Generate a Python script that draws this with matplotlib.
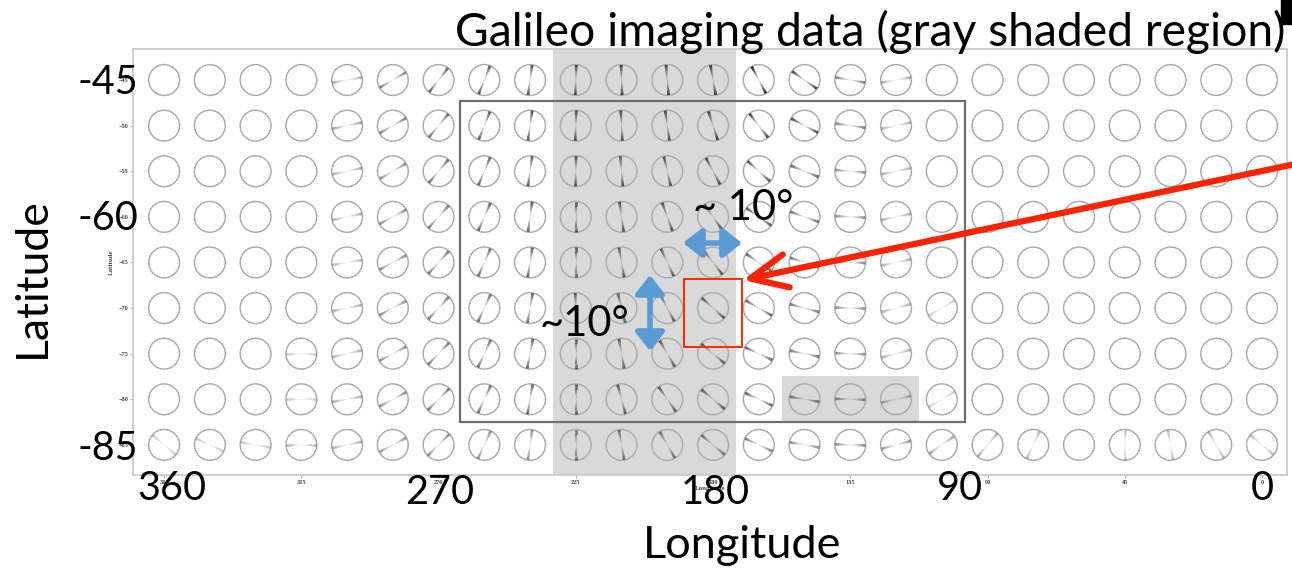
import numpy as np
import matplotlib
matplotlib.use("Agg")
import matplotlib.pyplot as plt
from matplotlib.patches import Rectangle
from matplotlib.collections import LineCollection

nan = np.nan
# ---------------- data ----------------
longitudes = [360 - 15 * i for i in range(25)]          # 360 ... 0
latitudes = [-45, -50, -55, -60, -65, -70, -75, -80, -85]

# orientation of the line in each circle (deg, counter-clockwise from east); nan = no line
angle_rows = [
    [nan]*4 + [10, 30, 52, 68, 82, 88, 92, 95, 100, 118, 145, 170, 10] + [nan]*8,
    [nan]*4 + [12, 30, 50, 68, 82, 88, 93, 98, 108, 128, 152, 172, 12] + [nan]*8,
    [nan]*4 + [12, 30, 50, 67, 82, 89, 95, 103, 118, 138, 158, 175, 12] + [nan]*8,
    [nan]*4 + [12, 28, 48, 66, 82, 90, 98, 110, 125, 145, 160, 177, 12] + [nan]*8,
    [nan]*4 + [10, 28, 48, 66, 81, 90, 100, 115, 128, 146, 162, 178, 12] + [nan]*8,
    [nan]*4 + [12, 28, 47, 65, 80, 92, 104, 118, 138, 150, 165, 178, 15, 30] + [nan]*7,
    [nan]*3 + [0, 13, 28, 46, 65, 79, 90, 100, 120, 140, 155, 168, 178, 15] + [nan]*8,
    [nan]*3 + [0, 10, 28, 45, 65, 80, 90, 105, 125, 140, 155, 170, 178, 13, 30] + [nan]*7,
    [140, 155, 170, 0, 12, 28, 45, 65, 82, 90, 100, 120, 140, 155, 170, 178, 15, 35, 50, 65, nan, 90, 100, 120, 140],
]
# darkness of each line (0..1)
intensity_rows = [
    [0]*4 + [.35, .55, .70, .75, .80, .80, .85, .85, .90, 1.0, .85, .55, .35] + [0]*8,
    [0]*4 + [.40, .55, .65, .75, .80, .80, .80, .80, .85, .85, .80, .55, .35] + [0]*8,
    [0]*4 + [.35, .50, .65, .70, .75, .75, .75, .75, .80, .80, .70, .50, .35] + [0]*8,
    [0]*4 + [.35, .50, .60, .70, .75, .75, .75, .75, .75, .75, .65, .50, .35] + [0]*8,
    [0]*4 + [.30, .50, .60, .65, .70, .70, .70, .70, .70, .70, .60, .50, .35] + [0]*8,
    [0]*4 + [.35, .50, .60, .65, .70, .70, .70, .70, .70, .70, .60, .50, .35, .22] + [0]*7,
    [0]*3 + [.22, .35, .50, .60, .65, .70, .70, .70, .70, .70, .70, .60, .50, .35] + [0]*8,
    [0]*3 + [.22, .35, .50, .60, .65, .70, .70, .70, .70, .70, .70, .60, .50, .35, .22] + [0]*7,
    [.25, .25, .25, .30, .35, .45, .50, .50, .50, .60, .60, .60, .60, .55, .50, .50, .45, .40, .35, .30, 0, .25, .30, .30, .30],
]

lon_ticks = [360, 315, 270, 225, 180, 135, 90, 45, 0]
lat_ticks = [-45, -50, -55, -60, -65, -70, -75, -80, -85]
big_lon_labels = ["360", "270", "180", "90", "0"]
big_lat_labels = ["-45", "-60", "-85"]

galileo_band = (232.5, 172.5)                       # lon range, full height
galileo_patch = (157.5, 112.5, -77.5, -82.5)         # lon0, lon1, lat0, lat1
study_box = (263.0, 97.5, -47.3, -82.5)
pixel_box = (189.5, 170.5, -66.8, -74.3)

# ---------------- figure ----------------
W, H = 1292, 571
fig = plt.figure(figsize=(W / 100, H / 100), dpi=100)
fig.patch.set_facecolor("white")

def fx(x):
    return x / W

def fy(y):
    return 1 - y / H

ax = fig.add_axes([fx(133), fy(475), fx(1287) - fx(133), fy(49) - fy(475)])
ax.set_xlim(370.2, -8.2)
ax.set_ylim(-88.3, -41.6)

for s in ax.spines.values():
    s.set_color("#cccccc")
    s.set_linewidth(1.3)

# shaded Galileo regions
ax.axvspan(galileo_band[0], galileo_band[1], color="#d9d9d9", zorder=0, lw=0)
g0, g1, g2, g3 = galileo_patch
ax.add_patch(Rectangle((g1, g3), g0 - g1, g2 - g3, color="#d9d9d9", zorder=0, lw=0))

# circles
LON, LAT = np.meshgrid(longitudes, latitudes)
ax.scatter(LON.ravel(), LAT.ravel(), s=(22.2) ** 2, facecolors="none",
           edgecolors="#ababab", linewidths=1.05, zorder=2)

# lines inside circles, with darker ends
angles = np.array(angle_rows, dtype=float)
inten = np.array(intensity_rows, dtype=float)
r_px = 15.0
segs, cols, lws = [], [], []
nseg = 14
ts = np.linspace(-1, 1, nseg + 1)
for i, lat in enumerate(latitudes):
    for j, lon in enumerate(longitudes):
        a = angles[i, j]
        if np.isnan(a) or inten[i, j] <= 0:
            continue
        cx, cy = ax.transData.transform((lon, lat))
        pts = np.column_stack([cx + ts * r_px * np.cos(np.radians(a)),
                               cy + ts * r_px * np.sin(np.radians(a))])
        pts = ax.transData.inverted().transform(pts)
        for k in range(nseg):
            tm = abs((ts[k] + ts[k + 1]) / 2)
            segs.append([pts[k], pts[k + 1]])
            al = inten[i, j] * (0.15 + 0.85 * tm ** 1.2)
            cols.append((0.08, 0.08, 0.08, min(al, 1)))
            lws.append(0.5 + 1.7 * tm)
ax.add_collection(LineCollection(segs, colors=cols, linewidths=lws, zorder=3,
                                 capstyle="butt"))

# study box and pixel box
b0, b1, b2, b3 = study_box
ax.add_patch(Rectangle((b1, b3), b0 - b1, b2 - b3, fill=False, ec="#6e6e6e", lw=1.6, zorder=4))
p0, p1, p2, p3 = pixel_box
ax.add_patch(Rectangle((p1, p3), p0 - p1, p2 - p3, fill=False, ec="#ff2a00", lw=1.4, zorder=5))

# tiny original ticks
ax.set_xticks(lon_ticks)
ax.set_xticklabels([str(v) for v in lon_ticks])
ax.set_yticks(lat_ticks)
ax.set_yticklabels(["\u2212%d" % -v for v in lat_ticks])
ax.tick_params(axis="both", labelsize=4.5, length=2, width=0.6, color="#999999",
               labelcolor="#444444", pad=1.5)
for lab in ax.get_xticklabels() + ax.get_yticklabels():
    lab.set_family("Liberation Serif")
    lab.set_fontweight("bold")
ax.set_ylabel("Latitude", fontsize=5, family="Liberation Serif", fontweight="bold",
              color="#444444", labelpad=3)
ax.set_xlabel("Longitude", fontsize=5, family="Liberation Serif", fontweight="bold",
              color="#444444", labelpad=1)

# ---------------- slide overlay text ----------------
FONT = "Lato"
big = 28.5
fig.text(fx(455), fy(32), "Galileo imaging data (gray shaded region)", family=FONT,
         fontsize=33.3, ha="left", va="center")
for lab, y in zip(big_lat_labels, [83, 219, 448]):
    fig.text(fx(138), fy(y), lab, family=FONT, fontsize=big, ha="right", va="center")
for lab, x, y in zip(big_lon_labels, [172, 440, 715, 960, 1262], [489, 492, 492, 489, 489]):
    fig.text(fx(x), fy(y), lab, family=FONT, fontsize=big, ha="center", va="center")
fig.text(fx(32), fy(278), "Latitude", family=FONT, fontsize=32, rotation=90,
         ha="center", va="center")
fig.text(fx(742), fy(546), "Longitude", family=FONT, fontsize=32.5, ha="center", va="center")
fig.text(fx(743), fy(208), "~ 10°", family=FONT, fontsize=30, ha="center", va="center")
fig.text(fx(584), fy(324), "~10°", family=FONT, fontsize=30, ha="center", va="center")

# arrows
ax.annotate("", xy=(fx(743), fy(280)), xycoords="figure fraction",
            xytext=(fx(1300), fy(163)), textcoords="figure fraction",
            arrowprops=dict(arrowstyle="->,head_length=1.2,head_width=0.55",
                            color="#ff2200", lw=4.5, mutation_scale=22,
                            shrinkA=0, shrinkB=0), zorder=10)
blue = "#5b9bd5"
ax.annotate("", xy=(fx(683), fy(243)), xycoords="figure fraction",
            xytext=(fx(742), fy(243)), textcoords="figure fraction",
            arrowprops=dict(arrowstyle="<|-|>,head_length=0.7,head_width=0.55",
                            color=blue, lw=4, mutation_scale=16, shrinkA=0, shrinkB=0))
ax.annotate("", xy=(fx(650), fy(275)), xycoords="figure fraction",
            xytext=(fx(650), fy(351)), textcoords="figure fraction",
            arrowprops=dict(arrowstyle="<|-|>,head_length=0.7,head_width=0.55",
                            color=blue, lw=4, mutation_scale=16, shrinkA=0, shrinkB=0))

# small black mark at top-right corner
fig.patches.append(Rectangle((fx(1281), fy(24)), fx(1292) - fx(1281), fy(0) - fy(24),
                             transform=fig.transFigure, color="black", zorder=20))

fig.savefig("out.png", dpi=100, facecolor="white")
